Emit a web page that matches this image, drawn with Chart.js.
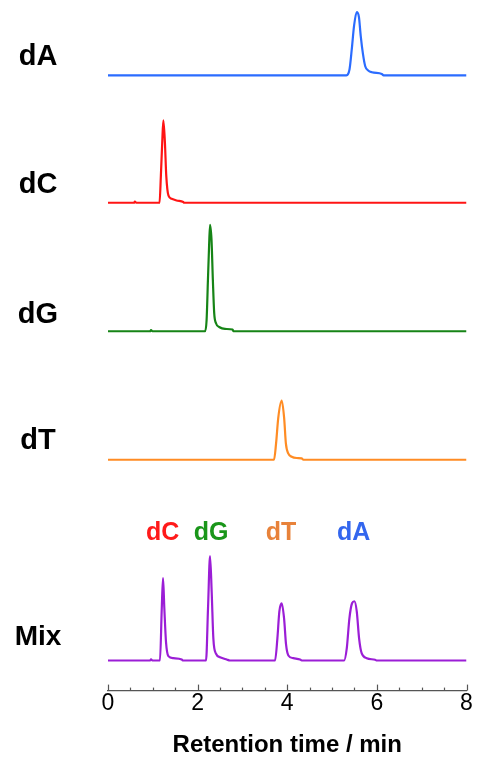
<!DOCTYPE html>
<html>
<head>
<meta charset="utf-8">
<script src="https://cdn.jsdelivr.net/npm/chart.js@4.4.1/dist/chart.umd.min.js"></script>
<style>
  html, body { margin: 0; padding: 0; background: #fff; }
  canvas { display: block; }
</style>
</head>
<body>
<canvas id="chromChart" width="477" height="764"></canvas>
<script>
// Sample names, top to bottom
const traceNames = ['dA', 'dC', 'dG', 'dT', 'Mix'];
const traceColors = ['#2b6cff', '#ff1414', '#168416', '#ff8c24', '#9b1ed6'];

// Retention time (min) / signal (a.u.)
const dATimes  = [0, 5.32, 5.39, 5.44, 5.49, 5.55, 5.60, 5.64, 5.69, 5.74, 5.80, 5.89, 6.11, 6.15, 8];
const dASignal = [0, 0, 6, 26, 49, 63, 58, 39, 21, 9, 5, 3, 1.3, 0, 0];

const dCTimes  = [0, 0.58, 0.60, 0.63, 1.15, 1.18, 1.21, 1.235, 1.27, 1.30, 1.35, 1.42, 1.53, 1.68, 1.70, 8];
const dCSignal = [0, 0, 1.2, 0, 0, 27, 60, 82, 60, 27, 7, 4, 2.3, 0.7, 0, 0];

const dGTimes  = [0, 0.94, 0.96, 0.99, 2.165, 2.20, 2.23, 2.255, 2.277, 2.31, 2.34, 2.37, 2.41, 2.49, 2.61, 2.78, 2.80, 8];
const dGSignal = [0, 0, 1.2, 0, 0, 11, 51, 84, 106, 91, 51, 18, 8, 4, 2.3, 1.7, 0, 0];

const dTTimes  = [0, 3.705, 3.75, 3.80, 3.876, 3.93, 3.97, 4.025, 4.10, 4.21, 4.32, 4.36, 8];
const dTSignal = [0, 0, 16, 42, 59, 42, 16, 6, 3, 1.7, 1.3, 0, 0];

const mixTimes  = [0, 0.94, 0.96, 0.99,
  1.16, 1.20, 1.228, 1.257, 1.295, 1.347, 1.458, 1.645, 1.667,
  2.188, 2.232, 2.277, 2.314, 2.351, 2.411, 2.50, 2.649, 2.723,
  3.728, 3.78, 3.824, 3.876, 3.929, 3.973, 4.025, 4.137, 4.286, 4.323,
  5.268, 5.328, 5.387, 5.446, 5.498, 5.551, 5.603, 5.662, 5.774, 5.96, 6.0, 8];
const mixSignal = [0, 0, 1.2, 0,
  0, 52, 82, 52, 18, 4.3, 2.3, 1, 0,
  0, 52, 104, 68, 22, 6.7, 3.3, 1, 0,
  0, 22, 49, 57, 42, 16, 5, 2.3, 1, 0,
  0, 12, 42, 57, 59, 49, 22, 7, 2.3, 0.7, 0, 0];

const traceTimes = [dATimes, dCTimes, dGTimes, dTTimes, mixTimes];
const traceSignals = [dASignal, dCSignal, dGSignal, dTSignal, mixSignal];

// Vertical stacking of the traces (baseline level of each trace)
const traceOffsets = [613, 486, 358, 230, 30];

// X axis ticks
const tickValues = [0, 2, 4, 6, 8];
const minorTickValues = [0, 0.5, 1, 1.5, 2, 2.5, 3, 3.5, 4, 4.5, 5, 5.5, 6, 6.5, 7, 7.5, 8];

// Peak labels above the Mix trace
const peakLabels = ['dC', 'dG', 'dT', 'dA'];
const peakLabelTimes = [1.22, 2.30, 3.86, 5.48];
const peakLabelColors = ['#ff1a1a', '#1a961a', '#e8823a', '#3366ee'];

const fontFamily = '"Liberation Sans", Arial, Helvetica, sans-serif';

// Draws upward tick marks, sample names and peak labels
const decorPlugin = {
  id: 'decor',
  afterDatasetsDraw(chart) {
    const ctx = chart.ctx;
    const xScale = chart.scales.x;
    const yScale = chart.scales.y;
    const bottom = chart.chartArea.bottom;

    ctx.save();
    ctx.strokeStyle = '#555';
    ctx.lineWidth = 1.2;
    minorTickValues.forEach(v => {
      const px = Math.round(xScale.getPixelForValue(v)) + 0.5;
      const len = tickValues.includes(v) ? 6 : 3;
      ctx.beginPath();
      ctx.moveTo(px, bottom);
      ctx.lineTo(px, bottom - len);
      ctx.stroke();
    });

    // Sample names on the left
    ctx.fillStyle = '#000';
    ctx.textAlign = 'center';
    ctx.textBaseline = 'middle';
    const lift = [18, 18, 16, 19, 23];
    traceNames.forEach((name, i) => {
      ctx.font = 'bold ' + (name === 'Mix' ? 28 : 29) + 'px ' + fontFamily;
      ctx.fillText(name, 38, yScale.getPixelForValue(traceOffsets[i]) - lift[i]);
    });

    // Peak labels over the Mix trace
    ctx.font = 'bold 25px ' + fontFamily;
    const labelY = yScale.getPixelForValue(traceOffsets[4]) - 127;
    peakLabels.forEach((txt, i) => {
      ctx.fillStyle = peakLabelColors[i];
      ctx.fillText(txt, xScale.getPixelForValue(peakLabelTimes[i]), labelY);
    });
    ctx.restore();
  }
};

const ctx = document.getElementById('chromChart').getContext('2d');
const chromChart = new Chart(ctx, {
  type: 'line',
  data: {
    datasets: traceNames.map((name, i) => ({
      label: name,
      data: traceTimes[i].map((t, j) => ({ x: t, y: traceSignals[i][j] + traceOffsets[i] })),
      borderColor: traceColors[i],
      borderWidth: 2.2,
      pointRadius: 0,
      fill: false,
      cubicInterpolationMode: 'monotone'
    }))
  },
  options: {
    responsive: false,
    animation: false,
    layout: { padding: { left: 108, right: 10.5, top: 0, bottom: 0 } },
    plugins: {
      legend: { display: false },
      tooltip: { enabled: false }
    },
    scales: {
      x: {
        type: 'linear',
        min: 0,
        max: 8,
        afterBuildTicks: scale => { scale.ticks = tickValues.map(v => ({ value: v })); },
        ticks: {
          color: '#000',
          padding: -1,
          maxRotation: 0,
          autoSkip: false,
          font: { family: fontFamily, size: 23 }
        },
        grid: { display: true, drawOnChartArea: false, drawTicks: false },
        border: { display: true, color: '#555', width: 1.2 },
        title: {
          display: true,
          text: 'Retention time / min',
          color: '#000',
          font: { family: fontFamily, size: 24, weight: 'bold' },
          padding: { top: 15, bottom: 4 }
        }
      },
      y: {
        display: false,
        min: 0,
        max: 688
      }
    }
  },
  plugins: [decorPlugin]
});
</script>
</body>
</html>
